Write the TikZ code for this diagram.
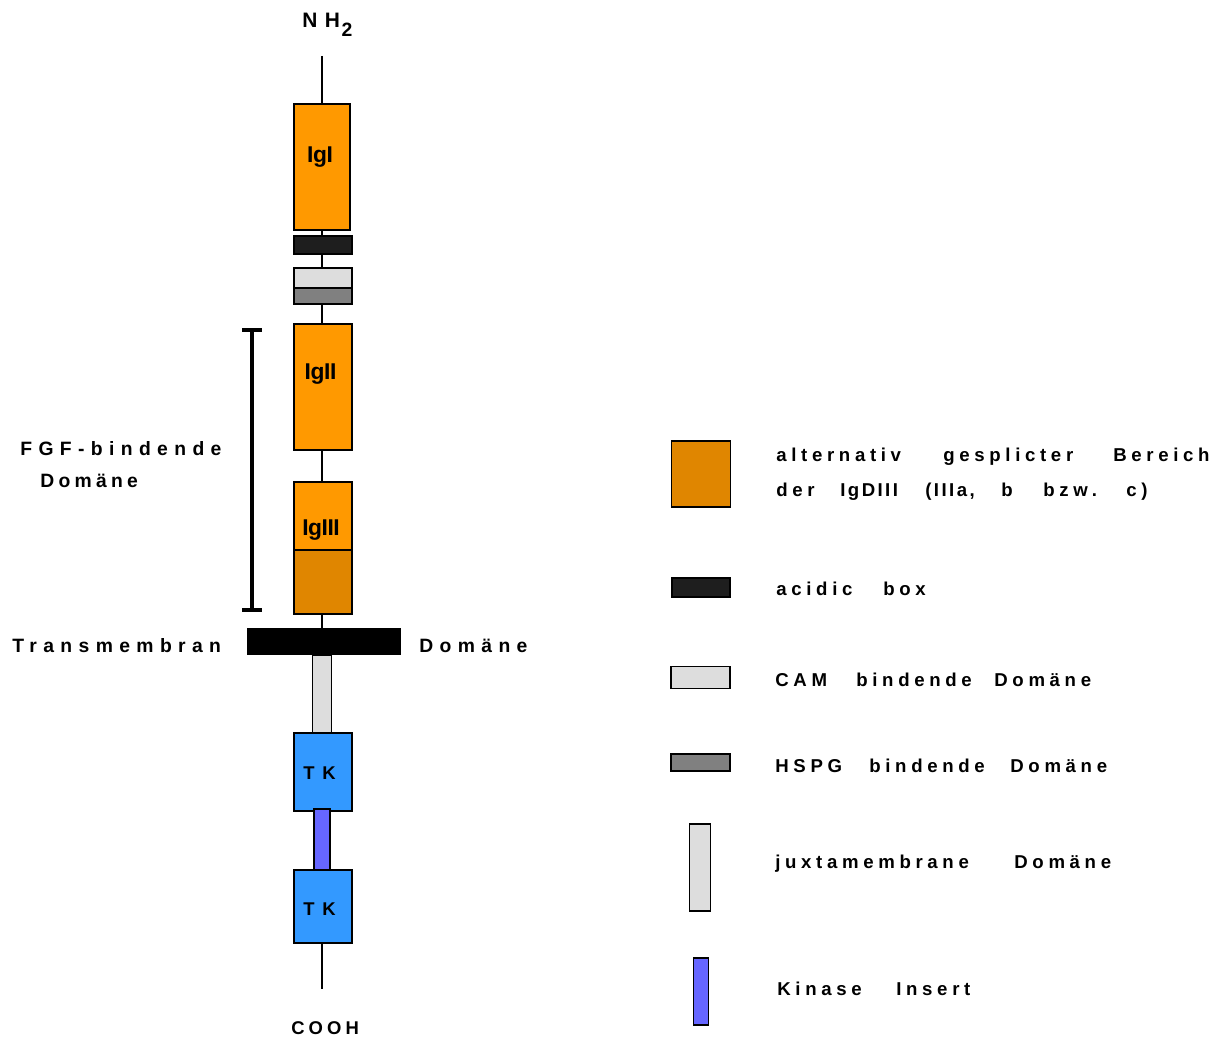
\documentclass[tikz,border=0pt]{standalone}
\usepackage{fontspec}
\setmainfont{Liberation Sans}
\newfontfamily\lsLeg{Liberation Sans}[LetterSpace=25]
\newfontfamily\lsLegTight{Liberation Sans}[LetterSpace=13]
\newfontfamily\lsWide{Liberation Sans}[LetterSpace=33]
\newfontfamily\lsMid{Liberation Sans}[LetterSpace=22]
\newfontfamily\lsTight{Liberation Sans}[LetterSpace=-2]
\usetikzlibrary{arrows.meta}

\definecolor{igorange}{HTML}{FF9900}
\definecolor{splice}{HTML}{E08600}
\definecolor{acidic}{HTML}{1E1E1E}
\definecolor{camgrey}{HTML}{DDDDDD}
\definecolor{hspggrey}{HTML}{808080}
\definecolor{tkblue}{HTML}{3399FF}
\definecolor{kinsert}{HTML}{6666FF}

\tikzset{
  dom/.style={draw=black, line width=1.1pt, rectangle, inner sep=0pt, outer sep=0pt},
  sz/.style 2 args={minimum width=#1*0.02cm, minimum height=#2*0.02cm},
  axis/.style={draw=black, line width=1pt},
  iglabel/.style={anchor=base, inner sep=0pt, font=\fontsize{13pt}{15pt}\lsTight\bfseries},
  tklabel/.style={anchor=base west, inner sep=0pt, font=\fontsize{10.5pt}{12pt}\selectfont\bfseries},
  sidelabel/.style={anchor=base west, inner sep=0pt, font=\fontsize{11pt}{13pt}\lsWide\bfseries},
  sidelabelmid/.style={anchor=base west, inner sep=0pt, font=\fontsize{11pt}{13pt}\lsMid\bfseries},
  leg/.style={anchor=base west, inner sep=0pt, font=\fontsize{10.6pt}{12pt}\lsLeg\bfseries},
  legtight/.style={anchor=base west, inner sep=0pt, font=\fontsize{10.6pt}{12pt}\lsLegTight\bfseries},
}

\begin{document}
\begin{tikzpicture}[x=0.02cm, y=-0.02cm]
  \useasboundingbox (0,0) rectangle (1226,1037);

  % ---------- receptor chain ----------
  \node[dom, sz={56}{126}, fill=igorange] (igI)   at (322,167) {};
  \node[dom, sz={58}{18},  fill=acidic]   (acid)  at (323,245) {};
  \node[dom, sz={58}{20},  fill=camgrey]  (cam)   at (323,278) {};
  \node[dom, sz={58}{16},  fill=hspggrey] (hspg)  at (323,296) {};
  \node[dom, sz={58}{126}, fill=igorange] (igII)  at (323,387) {};
  \node[dom, sz={58}{68},  fill=igorange] (igIIIa) at (323,516) {};
  \node[dom, sz={58}{64},  fill=splice]   (igIIIb) at (323,582) {};
  \node[dom, sz={19}{78},  fill=camgrey]  (jm)    at (322,694) {};
  \node[dom, sz={153}{26}, fill=black]    (tm)    at (324,641.5) {};
  \node[dom, sz={58}{78},  fill=tkblue]   (tk1)   at (323,772) {};
  \node[dom, sz={58}{73},  fill=tkblue]   (tk2)   at (323,906.5) {};
  \node[dom, sz={16}{61},  fill=kinsert]  (ki)    at (322,839.5) {};

  % chain ends
  \coordinate (nterm) at (322,56);
  \coordinate (cterm) at (322,989);

  % linker segments along the axis
  \draw[axis] (nterm) -- (nterm |- igI.north);
  \draw[axis] (igI.south) -- (igI.south |- acid.north);
  \draw[axis] (igI.south |- acid.south) -- (igI.south |- cam.north);
  \draw[axis] (igI.south |- hspg.south) -- (igI.south |- igII.north);
  \draw[axis] (igI.south |- igII.south) -- (igI.south |- igIIIa.north);
  \draw[axis] (igI.south |- igIIIb.south) -- (igI.south |- tm.north);
  \draw[axis] (cterm |- tk2.south) -- (cterm);

  % domain labels
  \node[iglabel] (tIgI)   at (320,163) {IgI};
  \node[iglabel] (tIgII)  at (320.5,379) {IgII};
  \node[iglabel] (tIgIII) at (321,535) {IgIII};
  \node[tklabel] (tTK1) at (303,779) {T\hspace{4.4pt}K};
  \node[tklabel] (tTK2) at (303,915) {T\hspace{4.4pt}K};

  % termini
  \node[anchor=base west, inner sep=0pt, font=\fontsize{11.9pt}{14pt}\selectfont\bfseries] (nh2) at (302,28)
    {N\hspace{4.2pt}H\hspace{1pt}\raisebox{-4.6pt}{\fontsize{11pt}{11pt}\selectfont 2}};
  \node[anchor=base west, inner sep=0pt, font=\fontsize{10.5pt}{12pt}\lsMid\bfseries] (cooh) at (291,1034) {COOH};

  % FGF binding region bracket
  \coordinate (brtop) at (252,328);
  \coordinate (brbot) at (252,612);
  \draw[line width=2.2pt, {Bar[width=11pt]}-{Bar[width=11pt]}] (brtop) -- (brbot);

  % side labels
  \node[sidelabel] (fgf1) at (20,455) {FGF-bindende};
  \node[sidelabelmid] (fgf2) at (40,487) {Domäne};
  \node[sidelabel] (tm1) at (12,652) {Transmembran};
  \node[sidelabel] (tm2) at (419,652) {Domäne};

  % ---------- legend ----------
  \node[dom, sz={59}{66}, fill=splice]   (lgSplice) at (701,474) {};
  \node[dom, sz={58}{19}, fill=acidic]   (lgAcid)   at (701,587.5) {};
  \node[dom, sz={59}{22}, fill=camgrey]  (lgCam)    at (700.5,677.5) {};
  \node[dom, sz={59}{17}, fill=hspggrey] (lgHspg)   at (700.5,762.5) {};
  \node[dom, sz={21}{87}, fill=camgrey]  (lgJm)     at (700,867.5) {};
  \node[dom, sz={15}{67}, fill=kinsert]  (lgKi)     at (701,991.5) {};

  \node[leg] (w1a) at (776,461) {alternativ};
  \node[leg] (w1b) at (943,461) {gesplicter};
  \node[leg] (w1c) at (1113,461) {Bereich};
  \node[leg] (w2a) at (776,496) {der};
  \node[legtight] (w2b) at (840,496) {IgDIII};
  \node[legtight] (w2c) at (925,496) {(IIIa,};
  \node[leg] (w2d) at (1001,496) {b};
  \node[leg] (w2e) at (1043,496) {bzw.};
  \node[leg] (w2f) at (1126,496) {c)};

  \node[leg] (w3a) at (776,595) {acidic};
  \node[leg] (w3b) at (883,595) {box};

  \node[leg] (w4a) at (775,686) {CAM};
  \node[leg] (w4b) at (856,686) {bindende};
  \node[leg] (w4c) at (994,686) {Domäne};

  \node[leg] (w5a) at (775,772) {HSPG};
  \node[leg] (w5b) at (869,772) {bindende};
  \node[leg] (w5c) at (1010,772) {Domäne};

  \node[leg] (w6a) at (775,868) {juxtamembrane};
  \node[leg] (w6b) at (1014,868) {Domäne};

  \node[leg] (w7a) at (777,995) {Kinase};
  \node[leg] (w7b) at (896,995) {Insert};
\end{tikzpicture}
\end{document}
